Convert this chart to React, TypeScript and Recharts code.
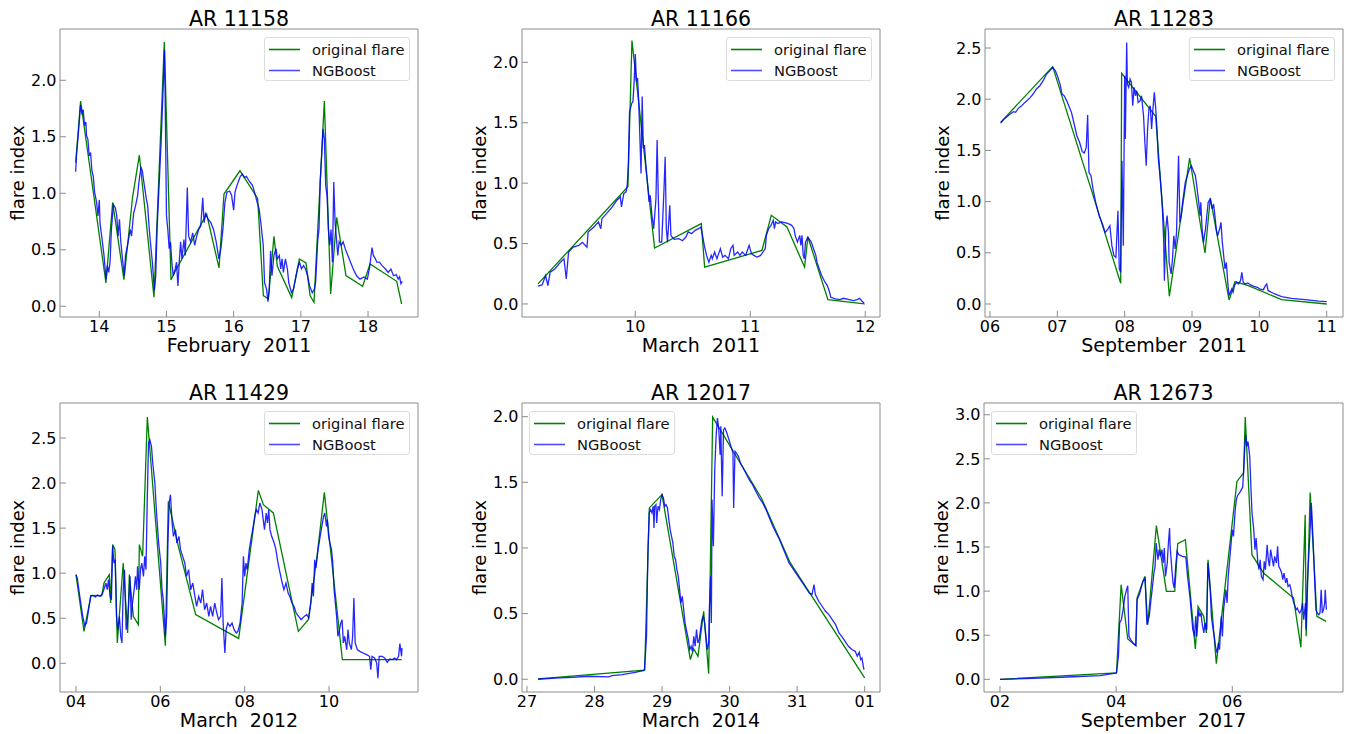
import React from 'react';
import { LineChart, Line, XAxis, YAxis } from 'recharts';

type Pt = [number, number];

// ---------- AR 11158 (February 2011) ----------
const ar11158Original: Pt[] = [
  [13.648, 1.272], [13.722, 1.817], [14.099, 0.206], [14.199, 0.919], [14.367, 0.236], [14.496, 0.969],
  [14.596, 1.337], [14.814, 0.08], [14.968, 2.339], [15.067, 0.233], [15.13, 0.31], [15.598, 0.816],
  [15.782, 0.339], [15.856, 0.993], [16.094, 1.199], [16.357, 0.954], [16.442, 0.094], [16.516, 0.065],
  [16.6, 0.619], [16.65, 0.353], [16.864, 0.077], [16.978, 0.418], [17.077, 0.383], [17.137, 0.094],
  [17.196, 0.035], [17.35, 1.817], [17.444, 0.109], [17.533, 0.786], [17.672, 0.271], [17.92, 0.177],
  [18.03, 0.374], [18.427, 0.221], [18.5, 0.02],
];
const ar11158NGBoost: Pt[] = [
  [13.648, 1.19], [13.66, 1.33], [13.69, 1.54], [13.72, 1.78], [13.74, 1.71], [13.76, 1.74], [13.78, 1.6],
  [13.8, 1.63], [13.81, 1.51], [13.83, 1.48], [13.85, 1.33], [13.87, 1.36], [13.89, 1.2], [13.91, 1.15],
  [13.93, 1.01], [13.96, 0.92], [13.98, 0.8], [14.0, 0.94], [14.01, 0.74], [14.04, 0.6], [14.07, 0.45],
  [14.1, 0.24], [14.12, 0.36], [14.14, 0.3], [14.16, 0.39], [14.18, 0.68], [14.21, 0.9], [14.24, 0.87],
  [14.26, 0.8], [14.28, 0.62], [14.3, 0.77], [14.32, 0.57], [14.35, 0.39], [14.37, 0.27], [14.39, 0.45],
  [14.41, 0.51], [14.43, 0.57], [14.46, 0.68], [14.48, 0.62], [14.51, 0.82], [14.54, 0.89], [14.57, 0.98],
  [14.59, 1.1], [14.62, 1.23], [14.64, 1.2], [14.67, 1.07], [14.7, 0.95], [14.72, 0.89], [14.74, 0.71],
  [14.76, 0.57], [14.79, 0.39], [14.82, 0.14], [14.84, 0.27], [14.86, 0.68], [14.89, 1.07], [14.92, 1.45],
  [14.95, 1.92], [14.97, 2.27], [14.98, 1.86], [15.0, 0.8], [15.02, 0.68], [15.04, 0.51], [15.06, 0.57],
  [15.08, 0.39], [15.1, 0.27], [15.13, 0.33], [15.15, 0.39], [15.17, 0.18], [15.19, 0.39], [15.21, 0.57],
  [15.23, 0.42], [15.26, 0.59], [15.28, 0.45], [15.31, 1.05], [15.33, 0.62], [15.36, 0.57], [15.39, 0.65],
  [15.42, 0.54], [15.45, 0.62], [15.48, 0.68], [15.51, 0.71], [15.54, 0.96], [15.56, 0.74], [15.58, 0.82],
  [15.62, 0.77], [15.66, 0.74], [15.7, 0.68], [15.74, 0.57], [15.78, 0.42], [15.81, 0.51], [15.84, 0.68],
  [15.87, 0.92], [15.9, 1.01], [15.94, 1.02], [15.97, 0.98], [16.0, 0.85], [16.02, 1.01], [16.05, 1.07],
  [16.08, 1.12], [16.1, 1.15], [16.13, 1.17], [16.16, 1.14], [16.19, 1.15], [16.22, 1.12], [16.24, 1.1],
  [16.28, 1.07], [16.32, 0.99], [16.35, 0.92], [16.38, 0.86], [16.41, 0.71], [16.44, 0.54], [16.46, 0.21],
  [16.49, 0.15], [16.51, 0.04], [16.53, 0.15], [16.55, 0.49], [16.57, 0.27], [16.6, 0.45], [16.63, 0.51],
  [16.65, 0.42], [16.68, 0.45], [16.7, 0.33], [16.72, 0.42], [16.74, 0.3], [16.77, 0.42], [16.8, 0.33],
  [16.82, 0.21], [16.86, 0.12], [16.89, 0.15], [16.92, 0.24], [16.95, 0.33], [16.98, 0.39], [17.01, 0.33],
  [17.04, 0.36], [17.07, 0.33], [17.1, 0.27], [17.13, 0.18], [17.17, 0.12], [17.2, 0.15], [17.22, 0.21],
  [17.25, 0.57], [17.27, 0.68], [17.29, 1.12], [17.31, 1.33], [17.33, 1.57], [17.35, 1.48], [17.37, 1.07],
  [17.39, 0.98], [17.41, 0.68], [17.43, 0.54], [17.45, 0.68], [17.47, 0.39], [17.49, 1.1], [17.51, 0.74],
  [17.53, 0.6], [17.55, 0.45], [17.57, 0.57], [17.6, 0.54], [17.63, 0.57], [17.66, 0.51], [17.7, 0.45],
  [17.74, 0.39], [17.78, 0.33], [17.83, 0.27], [17.88, 0.24], [17.94, 0.26], [17.99, 0.24], [18.02, 0.33],
  [18.06, 0.52], [18.08, 0.45], [18.11, 0.42], [18.13, 0.39], [18.17, 0.39], [18.21, 0.36], [18.26, 0.33],
  [18.3, 0.3], [18.34, 0.33], [18.38, 0.27], [18.42, 0.28], [18.45, 0.24], [18.47, 0.26], [18.49, 0.2],
  [18.51, 0.22],
];

// ---------- AR 11166 (March 2011) ----------
const ar11166Original: Pt[] = [
  [9.154, 0.166], [9.936, 0.97], [9.971, 2.18], [10.168, 0.463], [10.574, 0.665], [10.603, 0.305],
  [11.101, 0.443], [11.183, 0.734], [11.319, 0.637], [11.472, 0.305], [11.501, 0.554], [11.675, 0.036],
  [11.994, 0.0],
];
const ar11166NGBoost: Pt[] = [
  [9.154, 0.147], [9.19, 0.158], [9.22, 0.235], [9.24, 0.152], [9.26, 0.263], [9.3, 0.29], [9.35, 0.346],
  [9.38, 0.374], [9.4, 0.208], [9.42, 0.43], [9.46, 0.47], [9.51, 0.485], [9.54, 0.51], [9.58, 0.47],
  [9.59, 0.596], [9.64, 0.637], [9.68, 0.679], [9.7, 0.623], [9.71, 0.706], [9.75, 0.748], [9.8, 0.803],
  [9.84, 0.859], [9.87, 0.886], [9.88, 0.803], [9.9, 0.914], [9.92, 0.928], [9.93, 0.983], [9.94, 1.163],
  [9.95, 1.593], [9.97, 1.662], [9.98, 1.676], [9.99, 1.842], [10.0, 2.069], [10.01, 1.842], [10.02, 1.87],
  [10.03, 1.676], [10.05, 1.08], [10.06, 1.717], [10.07, 1.288], [10.08, 1.316], [10.09, 1.177],
  [10.11, 0.956], [10.12, 0.845], [10.13, 0.9], [10.145, 0.734], [10.16, 0.623], [10.18, 0.873],
  [10.19, 1.357], [10.2, 0.9], [10.21, 0.512], [10.23, 0.512], [10.25, 0.956], [10.26, 1.219],
  [10.27, 0.623], [10.28, 0.512], [10.3, 0.817], [10.31, 0.568], [10.32, 0.554], [10.34, 0.535],
  [10.38, 0.54], [10.41, 0.523], [10.44, 0.554], [10.46, 0.596], [10.49, 0.582], [10.52, 0.609],
  [10.55, 0.623], [10.57, 0.637], [10.585, 0.568], [10.6, 0.485], [10.62, 0.402], [10.64, 0.346],
  [10.66, 0.402], [10.67, 0.374], [10.69, 0.43], [10.71, 0.374], [10.72, 0.402], [10.74, 0.457],
  [10.76, 0.388], [10.78, 0.402], [10.81, 0.374], [10.83, 0.457], [10.85, 0.485], [10.86, 0.402],
  [10.89, 0.43], [10.91, 0.402], [10.93, 0.43], [10.96, 0.402], [10.97, 0.43], [10.99, 0.485],
  [11.01, 0.416], [11.03, 0.402], [11.06, 0.388], [11.09, 0.402], [11.11, 0.43], [11.13, 0.457],
  [11.14, 0.568], [11.16, 0.623], [11.18, 0.651], [11.2, 0.693], [11.21, 0.623], [11.22, 0.679],
  [11.24, 0.665], [11.27, 0.679], [11.3, 0.673], [11.33, 0.665], [11.36, 0.651], [11.38, 0.623],
  [11.39, 0.568], [11.41, 0.512], [11.43, 0.568], [11.44, 0.485], [11.45, 0.568], [11.46, 0.402],
  [11.47, 0.374], [11.48, 0.512], [11.5, 0.554], [11.51, 0.54], [11.53, 0.512], [11.55, 0.457],
  [11.57, 0.402], [11.58, 0.346], [11.6, 0.29], [11.62, 0.235], [11.65, 0.18], [11.67, 0.152],
  [11.69, 0.097], [11.7, 0.055], [11.74, 0.042], [11.78, 0.036], [11.81, 0.047], [11.86, 0.036],
  [11.9, 0.028], [11.93, 0.036], [11.95, 0.047], [11.97, 0.025], [11.99, 0.008],
];

// ---------- AR 11283 (September 2011) ----------
const ar11283Original: Pt[] = [
  [6.158, 1.774], [6.931, 2.318], [7.941, 0.202], [7.955, 2.253], [8.46, 1.833], [8.663, 0.075],
  [8.965, 1.426], [9.193, 0.498], [9.272, 1.035], [9.55, 0.039], [9.639, 0.218], [9.837, 0.179],
  [10.33, 0.042], [11.0, 0.0],
];
const ar11283NGBoost: Pt[] = [
  [6.158, 1.768], [6.22, 1.813], [6.3, 1.855], [6.35, 1.878], [6.38, 1.872], [6.42, 1.911], [6.47, 1.937],
  [6.52, 1.969], [6.56, 1.992], [6.6, 2.018], [6.64, 2.051], [6.69, 2.1], [6.74, 2.132], [6.79, 2.181],
  [6.84, 2.246], [6.89, 2.279], [6.93, 2.311], [6.97, 2.279], [7.0, 2.23], [7.04, 2.148], [7.07, 2.051],
  [7.1, 2.034], [7.14, 1.986], [7.17, 1.937], [7.21, 1.872], [7.25, 1.758], [7.29, 1.644], [7.33, 1.579],
  [7.37, 1.488], [7.4, 1.475], [7.43, 1.53], [7.45, 1.846], [7.47, 1.286], [7.5, 1.253], [7.53, 1.123],
  [7.57, 0.993], [7.62, 0.863], [7.67, 0.781], [7.71, 0.7], [7.75, 0.732], [7.78, 0.765], [7.81, 0.57],
  [7.84, 0.472], [7.87, 0.456], [7.9, 0.911], [7.92, 0.342], [7.94, 0.309], [7.96, 1.4], [7.98, 0.57],
  [8.0, 2.23], [8.01, 1.611], [8.03, 2.555], [8.04, 2.148], [8.06, 2.116], [8.08, 2.197], [8.1, 2.165],
  [8.12, 1.937], [8.14, 2.116], [8.16, 2.034], [8.18, 2.083], [8.2, 1.969], [8.23, 1.986], [8.25, 2.034],
  [8.28, 1.839], [8.3, 1.579], [8.32, 1.351], [8.34, 1.709], [8.36, 1.904], [8.38, 1.937], [8.4, 1.709],
  [8.42, 1.904], [8.44, 2.067], [8.46, 1.921], [8.48, 1.709], [8.5, 1.416], [8.52, 1.286], [8.54, 1.123],
  [8.56, 0.928], [8.58, 0.602], [8.59, 0.228], [8.61, 0.732], [8.63, 0.863], [8.65, 0.7], [8.66, 0.407],
  [8.69, 0.293], [8.71, 0.44], [8.73, 0.667], [8.75, 0.537], [8.77, 0.7], [8.8, 1.449], [8.82, 0.798],
  [8.84, 0.863], [8.86, 0.993], [8.88, 1.091], [8.9, 1.188], [8.93, 1.253], [8.96, 1.318], [8.99, 1.351],
  [9.02, 1.302], [9.05, 1.253], [9.07, 1.156], [9.1, 0.993], [9.12, 0.863], [9.13, 0.993], [9.15, 0.732],
  [9.17, 0.602], [9.2, 0.732], [9.22, 0.863], [9.24, 0.993], [9.27, 1.025], [9.3, 0.928], [9.32, 0.977],
  [9.34, 0.863], [9.36, 0.732], [9.38, 0.667], [9.41, 0.732], [9.43, 0.798], [9.45, 0.602], [9.47, 0.472],
  [9.49, 0.342], [9.51, 0.407], [9.53, 0.212], [9.55, 0.081], [9.57, 0.114], [9.59, 0.146], [9.61, 0.114],
  [9.63, 0.179], [9.66, 0.212], [9.69, 0.195], [9.72, 0.228], [9.74, 0.309], [9.76, 0.212], [9.79, 0.195],
  [9.83, 0.205], [9.87, 0.186], [9.92, 0.173], [9.97, 0.163], [10.01, 0.146], [10.06, 0.14], [10.09, 0.179],
  [10.11, 0.195], [10.13, 0.13], [10.23, 0.098], [10.33, 0.072], [10.48, 0.055], [10.68, 0.042],
  [10.88, 0.029], [11.0, 0.023],
];

// ---------- AR 11429 (March 2012) ----------
const ar11429Original: Pt[] = [
  [4.0, 0.984], [4.19, 0.355], [4.356, 0.754], [4.609, 0.751], [4.664, 0.891], [4.79, 0.984], [4.822, 0.669],
  [4.87, 1.317], [4.925, 1.261], [4.98, 0.226], [5.12, 1.113], [5.225, 0.337], [5.265, 0.984],
  [5.36, 0.521], [5.478, 0.429], [5.502, 1.317], [5.58, 1.187], [5.692, 2.733], [6.119, 0.196],
  [6.19, 1.797], [6.427, 1.298], [6.838, 0.54], [7.478, 0.374], [7.858, 0.277], [8.324, 1.919],
  [8.443, 1.76], [8.68, 1.668], [9.273, 0.355], [9.51, 0.484], [9.707, 1.15], [9.889, 1.897],
  [10.316, 0.041], [11.723, 0.041],
];
const ar11429NGBoost: Pt[] = [
  [4.0, 0.984], [4.03, 0.947], [4.09, 0.743], [4.16, 0.521], [4.21, 0.418], [4.25, 0.447], [4.3, 0.595],
  [4.35, 0.751], [4.41, 0.751], [4.46, 0.736], [4.51, 0.758], [4.57, 0.743], [4.62, 0.766], [4.66, 0.817],
  [4.71, 0.891], [4.74, 0.817], [4.77, 0.928], [4.81, 0.743], [4.84, 0.706], [4.87, 1.298], [4.9, 1.113],
  [4.93, 1.15], [4.96, 0.521], [4.99, 0.374], [5.03, 0.521], [5.06, 0.3], [5.09, 0.226], [5.12, 0.817],
  [5.15, 1.039], [5.19, 0.374], [5.22, 0.447], [5.25, 0.669], [5.28, 0.965], [5.31, 0.484], [5.34, 0.669],
  [5.38, 0.817], [5.41, 0.965], [5.44, 0.817], [5.46, 1.076], [5.5, 0.817], [5.53, 1.039], [5.56, 1.113],
  [5.6, 0.965], [5.63, 1.187], [5.66, 1.039], [5.69, 1.816], [5.72, 2.444], [5.75, 2.481], [5.79, 2.408],
  [5.82, 2.223], [5.87, 2.0], [5.91, 1.668], [5.96, 1.335], [6.01, 1.113], [6.04, 0.817], [6.07, 0.706],
  [6.12, 0.3], [6.15, 0.521], [6.18, 1.335], [6.21, 1.779], [6.24, 1.871], [6.28, 1.557], [6.31, 1.409],
  [6.36, 1.483], [6.39, 1.335], [6.44, 1.409], [6.48, 1.261], [6.53, 1.187], [6.58, 1.113], [6.62, 0.965],
  [6.67, 1.039], [6.72, 0.817], [6.77, 0.891], [6.82, 0.743], [6.86, 0.632], [6.91, 0.743], [6.96, 0.669],
  [7.0, 0.817], [7.05, 0.595], [7.1, 0.669], [7.15, 0.521], [7.19, 0.632], [7.24, 0.521], [7.29, 0.669],
  [7.34, 0.558], [7.38, 0.484], [7.43, 0.521], [7.46, 0.947], [7.49, 0.447], [7.53, 0.115], [7.56, 0.374],
  [7.6, 0.447], [7.65, 0.41], [7.7, 0.447], [7.75, 0.374], [7.8, 0.337], [7.84, 0.355], [7.89, 0.447],
  [7.94, 0.669], [7.97, 1.187], [8.0, 0.965], [8.03, 1.113], [8.06, 1.039], [8.11, 1.261], [8.16, 1.409],
  [8.19, 1.483], [8.24, 1.631], [8.28, 1.705], [8.32, 1.668], [8.36, 1.779], [8.41, 1.705], [8.44, 1.594],
  [8.47, 1.483], [8.51, 1.668], [8.54, 1.557], [8.57, 1.705], [8.6, 1.483], [8.64, 1.409], [8.7, 1.335],
  [8.74, 1.261], [8.79, 1.113], [8.84, 1.002], [8.89, 0.891], [8.93, 0.817], [8.98, 0.891], [9.03, 0.78],
  [9.07, 0.743], [9.12, 0.669], [9.17, 0.632], [9.22, 0.558], [9.28, 0.521], [9.34, 0.484], [9.41, 0.521],
  [9.47, 0.54], [9.52, 0.503], [9.57, 0.669], [9.6, 0.891], [9.63, 0.743], [9.66, 1.15], [9.69, 1.058],
  [9.74, 1.261], [9.79, 1.409], [9.83, 1.52], [9.87, 1.631], [9.9, 1.668], [9.94, 1.52], [9.96, 1.594],
  [9.99, 1.409], [10.02, 1.335], [10.06, 1.261], [10.09, 1.113], [10.12, 0.817], [10.15, 0.669],
  [10.18, 0.521], [10.21, 0.3], [10.25, 0.374], [10.28, 0.447], [10.31, 0.484], [10.34, 0.226],
  [10.37, 0.3], [10.42, 0.152], [10.45, 0.374], [10.48, 0.226], [10.53, 0.152], [10.56, 0.3],
  [10.59, 0.725], [10.62, 0.226], [10.67, 0.152], [10.73, 0.133], [10.81, 0.115], [10.89, 0.096],
  [10.96, 0.078], [10.99, -0.07], [11.02, 0.078], [11.08, 0.059], [11.13, 0.004], [11.16, -0.166],
  [11.19, 0.078], [11.26, 0.078], [11.32, 0.059], [11.38, 0.011], [11.44, 0.048], [11.5, 0.041],
  [11.56, 0.059], [11.6, 0.041], [11.65, 0.078], [11.68, 0.218], [11.72, 0.078], [11.73, 0.17],
];

// ---------- AR 12017 (March 2014; 32 = 01 April) ----------
const ar12017Original: Pt[] = [
  [27.163, 0.003], [28.742, 0.069], [28.811, 1.305], [28.999, 1.406], [29.419, 0.15], [29.468, 0.231],
  [29.532, 0.175], [29.616, 0.518], [29.69, 0.043], [29.749, 1.997], [30.47, 1.381], [30.899, 0.886],
  [32.0, 0.01],
];
const ar12017NGBoost: Pt[] = [
  [27.163, 0.0], [27.42, 0.008], [27.67, 0.015], [27.91, 0.023], [28.21, 0.018], [28.26, 0.028],
  [28.41, 0.036], [28.6, 0.053], [28.72, 0.066], [28.74, 0.074], [28.77, 0.327], [28.79, 0.962],
  [28.81, 1.267], [28.83, 1.292], [28.85, 1.267], [28.87, 1.318], [28.88, 1.152], [28.89, 1.318],
  [28.91, 1.33], [28.92, 1.19], [28.94, 1.318], [28.96, 1.292], [28.98, 1.368], [29.0, 1.406],
  [29.02, 1.381], [29.04, 1.318], [29.06, 1.33], [29.08, 1.305], [29.1, 1.216], [29.12, 1.14],
  [29.14, 1.089], [29.16, 1.038], [29.18, 0.937], [29.2, 0.911], [29.22, 0.835], [29.24, 0.784],
  [29.26, 0.683], [29.28, 0.581], [29.3, 0.632], [29.32, 0.53], [29.34, 0.429], [29.36, 0.378],
  [29.38, 0.327], [29.39, 0.302], [29.41, 0.226], [29.43, 0.251], [29.45, 0.213], [29.47, 0.327],
  [29.49, 0.251], [29.51, 0.378], [29.53, 0.277], [29.55, 0.302], [29.57, 0.378], [29.59, 0.454],
  [29.61, 0.48], [29.63, 0.429], [29.65, 0.327], [29.67, 0.226], [29.69, 0.277], [29.7, 0.53],
  [29.72, 0.784], [29.73, 0.429], [29.74, 1.368], [29.76, 1.013], [29.78, 1.596], [29.8, 1.85],
  [29.82, 1.99], [29.84, 1.901], [29.86, 1.711], [29.87, 1.926], [29.89, 1.393], [29.91, 1.901],
  [29.93, 1.914], [29.96, 1.876], [29.99, 1.825], [30.02, 1.774], [30.05, 1.723], [30.06, 1.305],
  [30.08, 1.736], [30.1, 1.723], [30.13, 1.698], [30.16, 1.647], [30.2, 1.609], [30.24, 1.571],
  [30.29, 1.52], [30.34, 1.482], [30.39, 1.431], [30.44, 1.381], [30.49, 1.343], [30.54, 1.292],
  [30.59, 1.228], [30.64, 1.165], [30.69, 1.114], [30.74, 1.063], [30.79, 0.999], [30.84, 0.937],
  [30.88, 0.886], [30.93, 0.848], [30.98, 0.81], [31.03, 0.772], [31.08, 0.734], [31.13, 0.695],
  [31.18, 0.657], [31.22, 0.645], [31.25, 0.721], [31.27, 0.645], [31.32, 0.594], [31.37, 0.556],
  [31.42, 0.518], [31.47, 0.492], [31.52, 0.454], [31.57, 0.416], [31.62, 0.353], [31.66, 0.327],
  [31.71, 0.289], [31.76, 0.251], [31.81, 0.226], [31.86, 0.213], [31.89, 0.175], [31.92, 0.206],
  [31.94, 0.15], [31.96, 0.162], [31.98, 0.099], [31.99, 0.074],
];

// ---------- AR 12673 (September 2017) ----------
const ar12673Original: Pt[] = [
  [2.0, 0.0], [4.006, 0.072], [4.086, 1.073], [4.2, 0.457], [4.338, 0.382], [4.361, 0.922], [4.493, 1.167],
  [4.544, 0.62], [4.693, 1.742], [4.865, 0.997], [5.009, 0.997], [5.06, 1.538], [5.192, 1.583],
  [5.364, 0.344], [5.41, 0.827], [5.507, 0.714], [5.553, 0.525], [5.582, 1.356], [5.725, 0.178],
  [6.08, 2.244], [6.195, 2.339], [6.223, 2.973], [6.338, 1.413], [6.539, 1.205], [7.054, 0.922],
  [7.181, 0.363], [7.255, 1.866], [7.272, 0.487], [7.341, 2.119], [7.456, 0.714], [7.616, 0.657],
];
const ar12673NGBoost: Pt[] = [
  [2.0, 0.0], [2.58, 0.011], [3.16, 0.026], [3.73, 0.042], [4.006, 0.072], [4.04, 0.261], [4.06, 0.638],
  [4.09, 0.676], [4.12, 0.79], [4.15, 0.941], [4.18, 1.016], [4.2, 1.062], [4.22, 0.487], [4.25, 0.45],
  [4.29, 0.412], [4.34, 0.382], [4.36, 0.903], [4.4, 0.96], [4.43, 1.035], [4.46, 1.111], [4.5, 1.148],
  [4.53, 0.62], [4.57, 0.714], [4.6, 0.903], [4.62, 1.016], [4.65, 1.205], [4.67, 1.281], [4.69, 1.545],
  [4.72, 1.356], [4.74, 1.47], [4.76, 1.394], [4.79, 1.47], [4.81, 1.318], [4.83, 1.489], [4.85, 1.167],
  [4.88, 1.318], [4.9, 1.545], [4.92, 1.715], [4.93, 1.507], [4.96, 1.243], [4.98, 1.092], [5.0, 1.035],
  [5.03, 1.318], [5.05, 1.451], [5.08, 1.413], [5.14, 1.394], [5.2, 1.386], [5.23, 1.167], [5.27, 0.941],
  [5.3, 0.714], [5.32, 0.563], [5.35, 0.487], [5.37, 0.714], [5.39, 0.487], [5.42, 0.79], [5.44, 0.714],
  [5.46, 0.752], [5.48, 0.638], [5.51, 0.525], [5.53, 0.638], [5.56, 0.563], [5.58, 1.318], [5.6, 1.167],
  [5.62, 1.016], [5.64, 0.714], [5.67, 0.563], [5.69, 0.487], [5.71, 0.374], [5.74, 0.298], [5.76, 0.412],
  [5.78, 0.336], [5.81, 0.714], [5.83, 0.487], [5.85, 0.79], [5.89, 1.016], [5.91, 0.865], [5.93, 1.167],
  [5.95, 1.318], [5.98, 1.545], [6.0, 1.696], [6.02, 1.621], [6.05, 1.923], [6.07, 2.036], [6.09, 2.082],
  [6.14, 2.131], [6.18, 2.18], [6.21, 2.565], [6.23, 2.773], [6.25, 2.641], [6.27, 2.697], [6.3, 2.527],
  [6.32, 2.187], [6.34, 1.885], [6.37, 1.696], [6.39, 1.47], [6.41, 1.602], [6.44, 1.318], [6.46, 1.243],
  [6.48, 1.356], [6.5, 1.167], [6.53, 1.13], [6.55, 1.337], [6.57, 1.243], [6.6, 1.526], [6.62, 1.356],
  [6.64, 1.281], [6.66, 1.47], [6.69, 1.356], [6.71, 1.281], [6.73, 1.394], [6.76, 1.318], [6.78, 1.507],
  [6.8, 1.281], [6.83, 1.243], [6.85, 1.205], [6.87, 1.13], [6.89, 1.205], [6.92, 1.092], [6.94, 1.148],
  [6.96, 1.054], [6.99, 1.073], [7.01, 1.016], [7.03, 0.941], [7.06, 0.865], [7.08, 0.827], [7.1, 0.79],
  [7.12, 0.808], [7.14, 0.771], [7.16, 0.752], [7.19, 0.79], [7.21, 0.865], [7.23, 0.676], [7.26, 0.865],
  [7.27, 0.563], [7.29, 1.073], [7.31, 1.318], [7.34, 1.696], [7.36, 1.998], [7.37, 1.885], [7.4, 1.432],
  [7.42, 1.092], [7.44, 0.79], [7.46, 0.752], [7.49, 0.733], [7.51, 0.752], [7.53, 1.016], [7.55, 0.752],
  [7.57, 0.79], [7.59, 0.865], [7.6, 1.016], [7.62, 0.79],
];

// ---------- labels & ticks ----------
const panelTitles = ['AR 11158', 'AR 11166', 'AR 11283', 'AR 11429', 'AR 12017', 'AR 12673'];
const xAxisLabels = ['February  2011', 'March  2011', 'September  2011', 'March  2012', 'March  2014', 'September  2017'];
const yAxisLabel = 'flare index';
const seriesNames = ['original flare', 'NGBoost'];

const xTicks11158 = [14, 15, 16, 17, 18];
const xTicks11166 = [10, 11, 12];
const xTicks11283 = [6, 7, 8, 9, 10, 11];
const xTicks11429 = [4, 6, 8, 10];
const xTicks12017 = [27, 28, 29, 30, 31, 32];
const xTicks12673 = [2, 4, 6];

const yTicksTo2 = [0, 0.5, 1, 1.5, 2];
const yTicksTo25 = [0, 0.5, 1, 1.5, 2, 2.5];
const yTicksTo3 = [0, 0.5, 1, 1.5, 2, 2.5, 3];

const pad2 = (v: number) => String(v).padStart(2, '0');
const plain = (v: number) => String(v);
const aprilWrap = (v: number) => (v === 32 ? '01' : String(v));

const toObj = (pts: Pt[]) => pts.map(([x, y]) => ({ x, y }));

const GREEN = '#008000';
const BLUE = '#0000ff';
const FRAME = '#8c8c8c';
const FONT = 'DejaVu Sans, Verdana, sans-serif';

interface Panel {
  title: string;
  xLabel: string;
  original: Pt[];
  ngboost: Pt[];
  xDomain: [number, number];
  yDomain: [number, number];
  xTicks: number[];
  yTicks: number[];
  xFmt: (v: number) => string;
  rect: { x: number; y: number; w: number; h: number };
  legendLeft: boolean;
}

const panels: Panel[] = [
  { title: panelTitles[0], xLabel: xAxisLabels[0], original: ar11158Original, ngboost: ar11158NGBoost,
    xDomain: [13.415, 18.744], yDomain: [-0.095, 2.454], xTicks: xTicks11158, yTicks: yTicksTo2, xFmt: plain,
    rect: { x: 60, y: 29, w: 358, h: 288 }, legendLeft: false },
  { title: panelTitles[1], xLabel: xAxisLabels[1], original: ar11166Original, ngboost: ar11166NGBoost,
    xDomain: [9.015, 12.128], yDomain: [-0.108, 2.276], xTicks: xTicks11166, yTicks: yTicksTo2, xFmt: plain,
    rect: { x: 522, y: 29, w: 358, h: 288 }, legendLeft: false },
  { title: panelTitles[2], xLabel: xAxisLabels[2], original: ar11283Original, ngboost: ar11283NGBoost,
    xDomain: [5.926, 11.242], yDomain: [-0.127, 2.686], xTicks: xTicks11283, yTicks: yTicksTo25, xFmt: pad2,
    rect: { x: 985, y: 29, w: 358, h: 288 }, legendLeft: false },
  { title: panelTitles[3], xLabel: xAxisLabels[3], original: ar11429Original, ngboost: ar11429NGBoost,
    xDomain: [3.621, 12.11], yDomain: [-0.318, 2.888], xTicks: xTicks11429, yTicks: yTicksTo25, xFmt: pad2,
    rect: { x: 60, y: 403, w: 358, h: 289 }, legendLeft: false },
  { title: panelTitles[4], xLabel: xAxisLabels[4], original: ar12017Original, ngboost: ar12017NGBoost,
    xDomain: [26.926, 32.227], yDomain: [-0.097, 2.104], xTicks: xTicks12017, yTicks: yTicksTo2, xFmt: aprilWrap,
    rect: { x: 522, y: 403, w: 358, h: 289 }, legendLeft: true },
  { title: panelTitles[5], xLabel: xAxisLabels[5], original: ar12673Original, ngboost: ar12673NGBoost,
    xDomain: [1.725, 7.906], yDomain: [-0.144, 3.133], xTicks: xTicks12673, yTicks: yTicksTo3, xFmt: pad2,
    rect: { x: 984, y: 403, w: 359, h: 289 }, legendLeft: true },
];

const ML = 60, MT = 30, MR = 10, MB = 50;

function PanelChart({ p }: { p: Panel }) {
  const { rect } = p;
  const W = rect.w + ML + MR;
  const H = rect.h + MT + MB;
  const tickStyle = { fill: '#000', fontSize: 16, fontFamily: FONT };
  return (
    <div style={{ position: 'absolute', left: rect.x - ML, top: rect.y - MT, width: W, height: H }}>
      <LineChart width={W} height={H} margin={{ top: MT - 1, right: MR - 1, bottom: MB - 30, left: ML - 50 }}>
        <XAxis xAxisId="bottom" dataKey="x" type="number" domain={p.xDomain} allowDataOverflow ticks={p.xTicks}
          tickFormatter={p.xFmt} height={30} tickSize={-6} tickMargin={10}
          axisLine={{ stroke: FRAME }} tickLine={{ stroke: FRAME }} tick={tickStyle} interval={0} />
        <XAxis xAxisId="top" orientation="top" dataKey="x" type="number" domain={p.xDomain} allowDataOverflow
          ticks={p.xTicks} height={1} tickSize={-6} tick={false} interval={0}
          axisLine={{ stroke: FRAME }} tickLine={{ stroke: FRAME }} />
        <YAxis yAxisId="left" type="number" domain={p.yDomain} allowDataOverflow ticks={p.yTicks}
          tickFormatter={(v: number) => v.toFixed(1)} width={50} tickSize={-6} tickMargin={9.5}
          axisLine={{ stroke: FRAME }} tickLine={{ stroke: FRAME }} tick={tickStyle} interval={0} />
        <YAxis yAxisId="right" orientation="right" type="number" domain={p.yDomain} allowDataOverflow
          ticks={p.yTicks} width={1} tickSize={-6} tick={false} interval={0}
          axisLine={{ stroke: FRAME }} tickLine={{ stroke: FRAME }} />
        <Line xAxisId="top" yAxisId="right" data={toObj(p.original)} dataKey="y" stroke="none" dot={false}
          activeDot={false} isAnimationActive={false} legendType="none" />
        <Line xAxisId="bottom" yAxisId="left" data={toObj(p.original)} dataKey="y" name={seriesNames[0]}
          stroke={GREEN} strokeWidth={1.3} dot={false} activeDot={false} isAnimationActive={false} />
        <Line xAxisId="bottom" yAxisId="left" data={toObj(p.ngboost)} dataKey="y" name={seriesNames[1]}
          stroke={BLUE} strokeOpacity={0.85} strokeWidth={1.3} dot={false} activeDot={false} isAnimationActive={false} />
      </LineChart>
    </div>
  );
}

function LegendBox({ p }: { p: Panel }) {
  const w = 146, h = 44;
  const left = p.legendLeft ? p.rect.x + 7 : p.rect.x + p.rect.w - 8 - w;
  const top = p.rect.y + 8;
  const row = (color: string, label: string, opacity: number) => (
    <div style={{ display: 'flex', alignItems: 'center', height: 21 }}>
      <svg width={35} height={21} style={{ display: 'block' }}>
        <line x1={4} y1={10.5} x2={35} y2={10.5} stroke={color} strokeOpacity={opacity} strokeWidth={1.6} />
      </svg>
      <span style={{ marginLeft: 12, fontSize: 14.7, fontFamily: FONT, color: '#111', whiteSpace: 'pre', lineHeight: '21px' }}>{label}</span>
    </div>
  );
  return (
    <div style={{ position: 'absolute', left, top, width: w, height: h, boxSizing: 'border-box',
      border: '1px solid #dcdcdc', borderRadius: 3, background: 'rgba(255,255,255,0.85)', paddingTop: 1 }}>
      {row(GREEN, seriesNames[0], 1)}
      {row(BLUE, seriesNames[1], 0.7)}
    </div>
  );
}

export default function App() {
  return (
    <div style={{ position: 'absolute', left: 0, top: 0, width: 1354, height: 734, background: '#fff' }}>
      {panels.map((p, i) => <PanelChart key={i} p={p} />)}
      <svg width={1354} height={734} style={{ position: 'absolute', left: 0, top: 0, pointerEvents: 'none' }}>
        {panels.map((p, i) => {
          const cx = p.rect.x + p.rect.w / 2;
          const cy = p.rect.y + p.rect.h / 2;
          const titleBase = p.rect.y - 3.3;
          const xLabBase = p.rect.y + p.rect.h + 35;
          const yLabX = p.rect.x - 35.7;
          return (
            <g key={i} fontFamily={FONT} fill="#000">
              <text x={cx} y={titleBase} textAnchor="middle" fontSize={20.5}>{p.title}</text>
              <text x={cx} y={xLabBase} textAnchor="middle" fontSize={19} style={{ whiteSpace: 'pre' }}>{p.xLabel}</text>
              <text x={yLabX} y={cy} textAnchor="middle" fontSize={18} transform={`rotate(-90, ${yLabX}, ${cy})`}>{yAxisLabel}</text>
            </g>
          );
        })}
      </svg>
      {panels.map((p, i) => <LegendBox key={i} p={p} />)}
    </div>
  );
}
